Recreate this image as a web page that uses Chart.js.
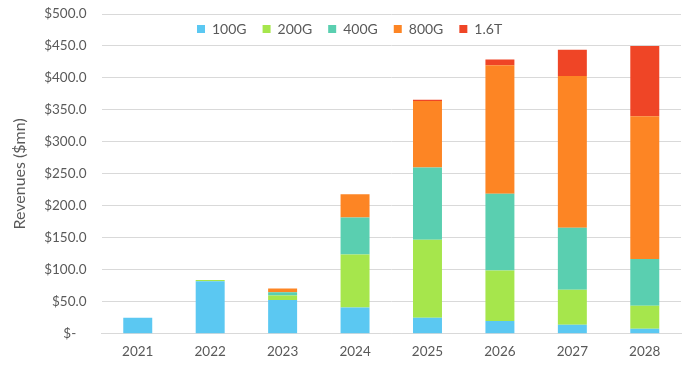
<!DOCTYPE html>
<html>
<head>
<meta charset="utf-8">
<script src="https://cdn.jsdelivr.net/npm/chart.js@4"></script>
<style>
  html, body { margin: 0; padding: 0; background: #fff; }
  #wrap { width: 700px; height: 372px; }
</style>
</head>
<body>
<div id="wrap"><canvas id="myChart"></canvas></div>
<script>
const years = ['2021', '2022', '2023', '2024', '2025', '2026', '2027', '2028'];
const g100 = [25, 82, 53, 41, 25, 20, 14, 8];
const g200 = [0, 2, 7, 83, 122, 79, 55, 36];
const g400 = [0, 0, 5, 58, 113, 120, 97, 73];
const g800 = [0, 0, 6, 36, 104, 201, 237, 223];
const t16 = [0, 0, 0, 0, 2, 9, 41, 110];

const grey = '#595959';
Chart.defaults.font.family = 'Lato, "Open Sans", sans-serif';
Chart.defaults.color = grey;

const mk = (label, data, color) => ({
    label: label,
    data: data,
    backgroundColor: color,
    borderWidth: 0,
    barPercentage: 0.4,
    categoryPercentage: 1.0
});

const data = {
    labels: years,
    datasets: [
        mk('100G', g100, '#5bc8f2'),
        mk('200G', g200, '#a6e64c'),
        mk('400G', g400, '#5acfb0'),
        mk('800G', g800, '#fd8524'),
        mk('1.6T', t16, '#ef4526')
    ]
};

// legend takes no layout room; it is drawn over the top of the plot
const legendOverlay = {
    id: 'legendOverlay',
    afterInit(chart) {
        const lg = chart.legend;
        const fit = lg.fit;
        lg.fit = function () { fit.call(this); this.height = 0; };
    },
    afterLayout(chart) {
        const lg = chart.legend;
        lg.top = 6;
        lg.bottom = 56;
        lg.height = 50;
        lg.left = 181;
        lg.right = 690;
        lg.width = 509;
    }
};

const config = {
    type: 'bar',
    data: data,
    options: {
        responsive: true,
        maintainAspectRatio: false,
        animation: false,
        layout: { padding: { left: 4, right: 19, top: 14, bottom: 2 } },
        plugins: {
            legend: {
                position: 'top',
                align: 'start',
                labels: {
                    boxWidth: 8,
                    boxHeight: 8,
                    padding: 16,
                    color: grey,
                    font: { size: 14 }
                }
            },
            tooltip: { enabled: false }
        },
        scales: {
            x: {
                stacked: true,
                grid: { display: false, drawTicks: false },
                border: { display: true, color: '#d9d9d9' },
                ticks: { padding: 10, color: grey, font: { size: 13.5 } }
            },
            y: {
                stacked: true,
                min: 0,
                max: 500,
                afterFit(s) { s.paddingTop = 0; s.paddingBottom = 0; },
                ticks: {
                    stepSize: 50,
                    padding: 15,
                    color: grey,
                    font: { size: 13.5 },
                    callback: (v) => v === 0 ? '$-   ' : '$' + v.toFixed(1)
                },
                grid: { color: '#d9d9d9', drawTicks: false },
                border: { display: false },
                title: {
                    display: true,
                    text: 'Revenues ($mn)',
                    color: grey,
                    font: { size: 16 },
                    padding: { top: 6, bottom: 0 }
                }
            }
        }
    },
    plugins: [legendOverlay]
};

const myChart = new Chart(document.getElementById('myChart'), config);
</script>
</body>
</html>
